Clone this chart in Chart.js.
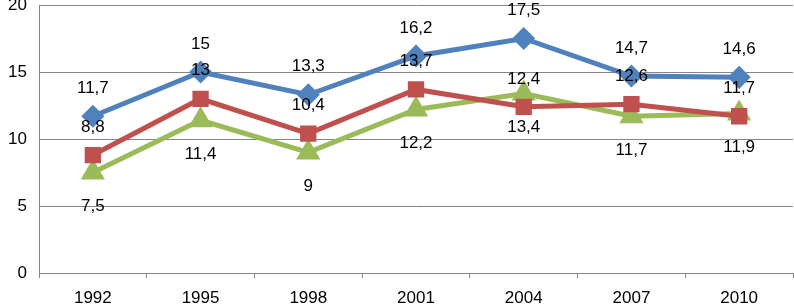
<!DOCTYPE html>
<html>
<head>
<meta charset="utf-8">
<script src="https://cdn.jsdelivr.net/npm/chart.js@4"></script>
<style>
  html, body { margin: 0; padding: 0; background: #fff; }
  #wrap { width: 794px; height: 308px; }
</style>
</head>
<body>
<div id="wrap"><canvas id="chart" width="794" height="308"></canvas></div>
<script>
const years = ['1992', '1995', '1998', '2001', '2004', '2007', '2010'];
const blueValues = [11.7, 15, 13.3, 16.2, 17.5, 14.7, 14.6];
const redValues = [8.8, 13, 10.4, 13.7, 12.4, 12.6, 11.7];
const greenValues = [7.5, 11.4, 9, 12.2, 13.4, 11.7, 11.9];
const yTicks = [0, 5, 10, 15, 20];

const FONT = "'Liberation Sans', Arial, sans-serif";

// value labels above (blue, red) or below (green) each point
const valueLabels = {
    id: 'valueLabels',
    afterDatasetsDraw(chart) {
        const ctx = chart.ctx;
        ctx.save();
        ctx.font = '17px ' + FONT;
        ctx.fillStyle = '#000';
        ctx.textAlign = 'center';
        ctx.textBaseline = 'middle';
        chart.data.datasets.forEach((ds, i) => {
            const meta = chart.getDatasetMeta(i);
            meta.data.forEach((pt, j) => {
                const txt = String(ds.data[j]).replace('.', ',');
                const dy = ds.labelPos === 'below' ? 34 : -28;
                ctx.fillText(txt, pt.x, pt.y + dy);
            });
        });
        ctx.restore();
    }
};

const ctx = document.getElementById('chart').getContext('2d');

new Chart(ctx, {
    type: 'line',
    data: {
        labels: years,
        datasets: [{
            data: blueValues,
            borderColor: '#4F81BD',
            backgroundColor: '#4F81BD',
            borderWidth: 5,
            pointStyle: 'rectRot',
            pointRadius: 8,
            labelPos: 'above'
        }, {
            data: redValues,
            borderColor: '#C0504D',
            backgroundColor: '#C0504D',
            borderWidth: 5,
            pointStyle: 'rect',
            pointRadius: 8,
            labelPos: 'above'
        }, {
            data: greenValues,
            borderColor: '#9BBB59',
            backgroundColor: '#9BBB59',
            borderWidth: 5,
            pointStyle: 'triangle',
            pointRadius: 9,
            labelPos: 'below'
        }]
    },
    options: {
        responsive: false,
        animation: false,
        clip: false,
        layout: { autoPadding: false, padding: { top: 5, right: 1, left: 0, bottom: 0 } },
        plugins: {
            legend: { display: false },
            tooltip: { enabled: false }
        },
        scales: {
            x: {
                offset: true,
                grid: {
                    offset: true,
                    drawOnChartArea: false,
                    drawTicks: true,
                    tickLength: 5,
                    color: '#868686'
                },
                border: { color: '#868686' },
                ticks: { color: '#000', font: { size: 17, family: FONT }, padding: 10, maxRotation: 0 },
                afterFit: (s) => { s.height = 35; s.paddingLeft = 0; s.paddingRight = 0; }
            },
            y: {
                min: 0,
                max: 20,
                afterBuildTicks: (s) => { s.ticks = yTicks.map(v => ({ value: v })); },
                grid: { color: '#868686', drawTicks: false },
                border: { color: '#868686' },
                ticks: { color: '#000', font: { size: 17, family: FONT }, padding: 12 },
                afterFit: (s) => { s.width = 39; s.paddingTop = 0; s.paddingBottom = 0; }
            }
        }
    },
    plugins: [valueLabels]
});
</script>
</body>
</html>
